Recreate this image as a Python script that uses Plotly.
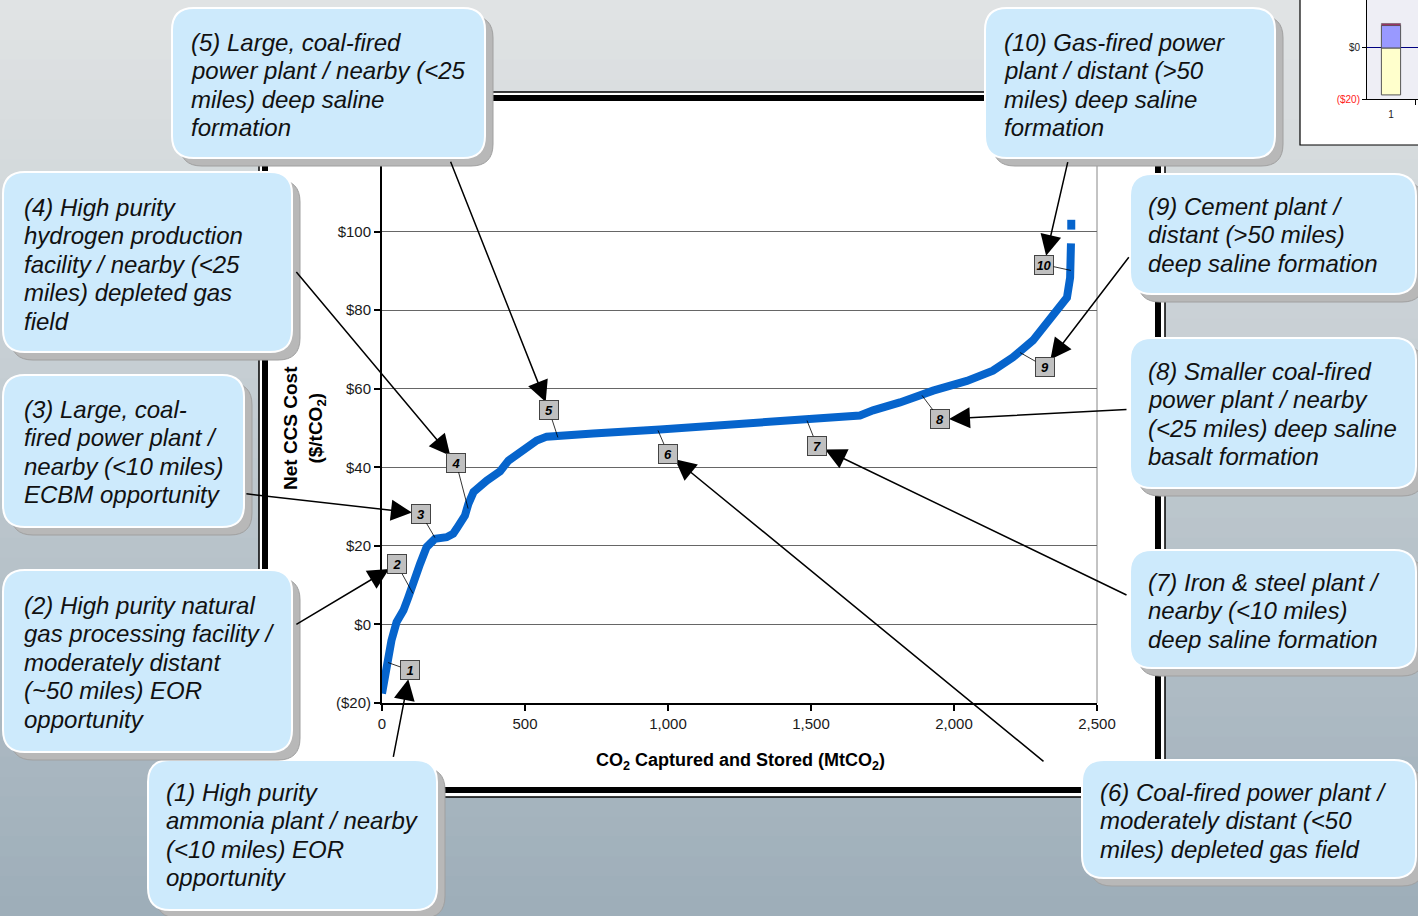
import plotly.graph_objects as go

W, H = 1418, 916

# ---------------- data ----------------
co2_mt = [0, 16, 33, 51, 75, 92, 110, 133, 156, 168, 185, 226, 249, 261, 273, 290, 302, 320,
          366, 413, 442, 495, 541, 576, 622, 738, 972, 1182, 1486, 1671, 1717, 1811, 1927,
          2045, 2136, 2206, 2276, 2346, 2395, 2406, 2409, None, 2410, 2410]
cost_usd = [-17.6, -10.9, -4.1, 0.6, 3.6, 6.9, 11.2, 15.4, 19.7, 20.9, 21.8, 22.2, 23.1, 24.4,
            26.0, 27.7, 30.7, 33.7, 36.6, 39.0, 41.7, 44.3, 46.8, 47.8, 48.1, 48.6, 49.6, 50.6,
            51.9, 53.2, 54.5, 56.5, 59.5, 62.0, 64.6, 68.0, 72.3, 79.0, 83.2, 88.3, 97.0, None,
            100.5, 103.0]

x_ticks = [0, 500, 1000, 1500, 2000, 2500]
x_tick_text = ["0", "500", "1,000", "1,500", "2,000", "2,500"]
y_ticks = [-20, 0, 20, 40, 60, 80, 100, 120]
y_tick_text = ["($20)", "$0", "$20", "$40", "$60", "$80", "$100", ""]

# numbered markers: point on curve and label location (data units)
label_ids = ["1", "2", "3", "4", "5", "6", "7", "8", "9", "10"]
label_pt_x = [21, 108, 185, 301, 615, 965, 1486, 1888, 2231, 2409]
label_pt_y = [-9.7, 7.9, 22.1, 29.5, 47.6, 49.4, 51.9, 58.3, 69.2, 90.1]
label_box_x = [98, 52, 136, 259, 584, 1000, 1521, 1951, 2318, 2315]
label_box_y = [-11.7, 15.3, 28.2, 41.2, 54.5, 43.5, 45.5, 52.2, 65.6, 91.6]

callout_lines = [
    ["(1) High purity", "ammonia plant / nearby", "(<10 miles) EOR", "opportunity"],
    ["(2) High purity natural", "gas processing facility /", "moderately distant", "(~50 miles) EOR", "opportunity"],
    ["(3) Large, coal-", "fired power plant /", "nearby (<10 miles)", "ECBM opportunity"],
    ["(4) High purity", "hydrogen production", "facility / nearby (<25", "miles) depleted gas", "field"],
    ["(5) Large, coal-fired", "power plant / nearby (<25", "miles) deep saline", "formation"],
    ["(6) Coal-fired power plant /", "moderately distant (<50", "miles) depleted gas field"],
    ["(7) Iron & steel plant /", "nearby (<10 miles)", "deep saline formation"],
    ["(8) Smaller coal-fired", "power plant / nearby", "(<25 miles) deep saline", "basalt formation"],
    ["(9) Cement plant /", "distant (>50 miles)", "deep saline formation"],
    ["(10) Gas-fired power", "plant / distant (>50", "miles) deep saline", "formation"],
]

# inset bar chart
inset_cat = [1]
inset_neg = [-18.4]
inset_pos = [8.8]
inset_top = [0.8]

# ---------------- layout geometry (pixels) ----------------
PX0, PX1, PY0, PY1 = 382, 1097, 153, 703
boxes = [  # x0, y0, x1, y1, text_x, first line center
    (148, 760, 437, 910, 166, 792),
    (3, 570, 292, 752, 24, 605),
    (3, 375, 244, 527, 24, 409),
    (3, 172, 292, 352, 24, 207),
    (172, 8, 485, 158, 191, 42),
    (1082, 760, 1416, 878, 1100, 792),
    (1130, 550, 1416, 668, 1148, 582),
    (1130, 338, 1416, 488, 1148, 371),
    (1130, 174, 1416, 294, 1148, 206),
    (985, 8, 1275, 158, 1004, 42),
]
arrow_tail = [(-17, 88), (-102, 61), (-176, -20), (-161, -192), (-99, -250),
              (377, 309), (311, 150), (188, -10), (85, -111), (24, -104)]


def px(x):
    return x / W


def py(y):
    return 1 - y / H


def rrect(x0, y0, x1, y1, r=22):
    rx, ry = r / W, r / H
    a, b, c, d = px(x0), py(y1), px(x1), py(y0)  # left,bottom,right,top
    return (f"M{a+rx},{d} L{c-rx},{d} Q{c},{d} {c},{d-ry} L{c},{b+ry} Q{c},{b} {c-rx},{b} "
            f"L{a+rx},{b} Q{a},{b} {a},{b+ry} L{a},{d-ry} Q{a},{d} {a+rx},{d} Z")


shapes = []
# background gradient
n = 46
top_c, bot_c = (224, 227, 228), (158, 174, 185)
for i in range(n):
    t = i / (n - 1)
    col = tuple(round(top_c[k] + (bot_c[k] - top_c[k]) * t) for k in range(3))
    shapes.append(dict(type="rect", xref="paper", yref="paper", layer="below",
                       x0=0, x1=1, y0=py((i + 1) * H / n + 1), y1=py(i * H / n),
                       fillcolor=f"rgb{col}", line=dict(width=0)))
# white chart panel
shapes.append(dict(type="rect", xref="paper", yref="paper", layer="below",
                   x0=px(259), x1=px(1165), y0=py(797), y1=py(92),
                   fillcolor="white", line=dict(color="black", width=1.5)))
shapes.append(dict(type="rect", xref="paper", yref="paper", layer="below",
                   x0=px(265), x1=px(1158), y0=py(790), y1=py(98),
                   fillcolor="white", line=dict(color="black", width=6)))
# inset panel
shapes.append(dict(type="rect", xref="paper", yref="paper", layer="below",
                   x0=px(1300), x1=px(1430), y0=py(145), y1=py(-5),
                   fillcolor="white", line=dict(color="black", width=1.2)))
shapes.append(dict(type="rect", xref="x2 domain", yref="y2 domain", layer="below",
                   x0=0, x1=1, y0=0, y1=1, fillcolor="#eeeef5", line=dict(width=0)))
# right border of plot
shapes.append(dict(type="line", xref="x domain", yref="y domain", layer="below",
                   x0=1, x1=1, y0=0, y1=1, line=dict(color="#888888", width=1)))
# callout boxes with shadows
for (x0, y0, x1, y1, tx, ty) in boxes:
    shapes.append(dict(type="path", xref="paper", yref="paper", layer="above",
                       path=rrect(x0 + 8, y0 + 8, x1 + 8, y1 + 8),
                       fillcolor="#b8b8b8", line=dict(color="#a0a0a0", width=1)))
    shapes.append(dict(type="path", xref="paper", yref="paper", layer="above",
                       path=rrect(x0, y0, x1, y1),
                       fillcolor="#cdeafc", line=dict(color="white", width=2)))

annotations = []
FONT = "Arial, Liberation Sans, sans-serif"
for (box, lines) in zip(boxes, callout_lines):
    x0, y0, x1, y1, tx, ty = box
    for j, line in enumerate(lines):
        annotations.append(dict(xref="paper", yref="paper", x=px(tx - 2), y=py(ty + j * 28.6),
                                xanchor="left", yanchor="middle", showarrow=False,
                                text=f"<i>{line}</i>",
                                font=dict(family=FONT, size=24, color="#111111")))

# callout arrows to numbered markers
for i in range(len(label_ids)):
    annotations.append(dict(xref="x", yref="y", x=label_box_x[i], y=label_box_y[i],
                            ax=arrow_tail[i][0], ay=arrow_tail[i][1], text="",
                            showarrow=True, arrowhead=2, arrowsize=2.8, arrowwidth=1.5,
                            arrowcolor="black", standoff=9))
# numbered markers with leader lines
for i in range(len(label_ids)):
    annotations.append(dict(xref="x", yref="y", x=label_pt_x[i], y=label_pt_y[i],
                            axref="x", ayref="y", ax=label_box_x[i], ay=label_box_y[i],
                            text=f"<b><i>{label_ids[i]}</i></b>", showarrow=True,
                            arrowhead=0, arrowwidth=0.8, arrowcolor="black", standoff=0,
                            bgcolor="#c0c0c0", bordercolor="#444444", borderwidth=1,
                            borderpad=1, width=16, height=16,
                            font=dict(family=FONT, size=13, color="black")))

# axis titles
annotations.append(dict(xref="paper", yref="paper", x=px(304), y=py(428), showarrow=False,
                        textangle=-90, xanchor="center", yanchor="middle",
                        text="<b>Net CCS Cost</b><br><b>($/tCO<sub>2</sub>)</b>",
                        font=dict(family=FONT, size=19, color="black")))
annotations.append(dict(xref="paper", yref="paper", x=px(740), y=py(761), showarrow=False,
                        xanchor="center", yanchor="middle",
                        text="<b>CO<sub>2</sub> Captured and Stored (MtCO<sub>2</sub>)</b>",
                        font=dict(family=FONT, size=18, color="black")))

fig = go.Figure()
fig.add_trace(go.Scatter(x=co2_mt, y=cost_usd, mode="lines", connectgaps=False,
                         line=dict(color="#0664cc", width=8), xaxis="x", yaxis="y",
                         showlegend=False, hoverinfo="skip"))
fig.add_trace(go.Bar(x=inset_cat, y=inset_neg, width=0.4, xaxis="x2", yaxis="y2",
                     marker=dict(color="#ffffcc", line=dict(color="#555555", width=1)),
                     showlegend=False))
fig.add_trace(go.Bar(x=inset_cat, y=inset_pos, width=0.4, xaxis="x2", yaxis="y2",
                     marker=dict(color="#9999ff", line=dict(color="#555555", width=1)),
                     showlegend=False))
fig.add_trace(go.Bar(x=inset_cat, y=inset_top, width=0.4, xaxis="x2", yaxis="y2",
                     marker=dict(color="#993366", line=dict(color="#555555", width=0.5)),
                     showlegend=False))

fig.update_layout(
    width=W, height=H, margin=dict(l=0, r=0, t=0, b=0, autoexpand=False),
    paper_bgcolor="#c8cfd3", plot_bgcolor="white", barmode="relative",
    showlegend=False, shapes=shapes, annotations=annotations,
    font=dict(family=FONT),
    xaxis=dict(domain=[px(PX0), px(PX1)], range=[0, 2500], tickvals=x_ticks,
               ticktext=x_tick_text, showgrid=False, zeroline=False, showline=True,
               linecolor="black", linewidth=2, ticks="outside", ticklen=6, tickwidth=2,
               tickcolor="black", tickfont=dict(size=15, color="#1a1a1a"), anchor="y",
               automargin=False),
    yaxis=dict(domain=[py(PY1), py(PY0)], range=[-20, 120], tickvals=y_ticks,
               ticktext=y_tick_text, showgrid=True, gridcolor="#666666", gridwidth=1,
               zeroline=False, showline=True, linecolor="black", linewidth=2,
               ticks="outside", ticklen=6, tickwidth=2, tickcolor="black",
               tickfont=dict(size=15, color="#1a1a1a"), anchor="x", automargin=False),
    xaxis2=dict(domain=[px(1367), 1], range=[0.5, 1.5625], tickvals=inset_cat,
                ticktext=[str(c) for c in inset_cat], ticks="", showgrid=False,
                zeroline=False, showline=True, linecolor="black", linewidth=1,
                tickfont=dict(size=10, color="#222222"), anchor="y2", automargin=False,
                ticklabelstandoff=6,
                minor=dict(tickmode="array", tickvals=[1.5], ticks="outside", ticklen=5,
                           tickcolor="black")),
    yaxis2=dict(domain=[py(99), 1], range=[-20, 18.8], tickvals=[-20, 0, 20],
                ticktext=['<span style="color:#ff2020">($20)</span>', "$0", "$20"],
                showgrid=False, zeroline=True, zerolinecolor="#000080", zerolinewidth=1.2,
                showline=True, linecolor="black", linewidth=1, ticks="outside", ticklen=4,
                tickcolor="black", tickfont=dict(size=10, color="#222222"), anchor="x2",
                automargin=False),
)

fig.write_html("out.html",
               post_script="document.body.style.margin='0';document.body.style.overflow='hidden';")
